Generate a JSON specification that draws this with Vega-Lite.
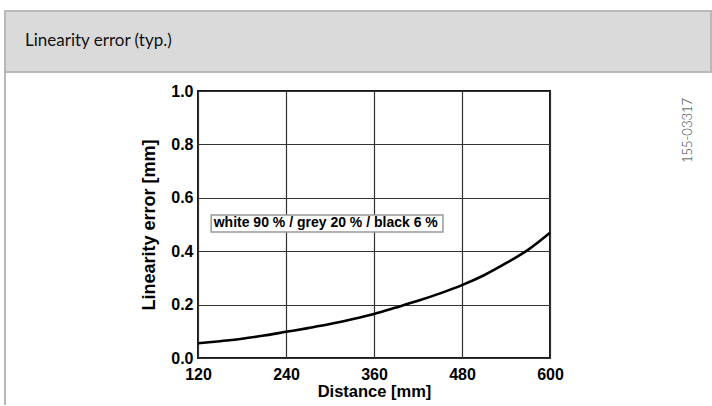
{
  "$schema": "https://vega.github.io/schema/vega-lite/v6.json",
  "padding": {"left": 4, "top": 10, "right": 0, "bottom": 0},
  "autosize": {"type": "pad"},
  "background": "white",
  "config": {
    "font": "Liberation Sans",
    "axis": {
      "grid": true,
      "gridColor": "#333333",
      "gridWidth": 1.2,
      "ticks": false,
      "tickSize": 0,
      "domain": false,
      "labelFont": "Liberation Sans",
      "labelFontSize": 16,
      "labelFontWeight": "bold",
      "labelColor": "#000000",
      "labelFlush": false,
      "labelOverlap": false,
      "titleFont": "Liberation Sans",
      "titleFontSize": 18,
      "titleFontWeight": "bold",
      "titleColor": "#000000"
    }
  },
  "datasets": {
    "curve": [
      {"distance": 120, "error": 0.055},
      {"distance": 150, "error": 0.063},
      {"distance": 180, "error": 0.072},
      {"distance": 210, "error": 0.084},
      {"distance": 240, "error": 0.098},
      {"distance": 270, "error": 0.112},
      {"distance": 300, "error": 0.127},
      {"distance": 330, "error": 0.145},
      {"distance": 360, "error": 0.165},
      {"distance": 390, "error": 0.189},
      {"distance": 420, "error": 0.214},
      {"distance": 450, "error": 0.242},
      {"distance": 480, "error": 0.273},
      {"distance": 510, "error": 0.31},
      {"distance": 540, "error": 0.355},
      {"distance": 570, "error": 0.405},
      {"distance": 600, "error": 0.469}
    ],
    "note": [
      {"x0": 138, "x1": 454, "y0": 0.472, "y1": 0.536, "ym": 0.504, "label": "white 90 % / grey 20 % / black 6 %"}
    ]
  },
  "bounds": "flush",
  "spacing": 0,
  "vconcat": [
    {
      "width": 706,
      "height": 61,
      "view": {"fill": "#dadada", "stroke": "#b8b8b8", "strokeWidth": 2},
      "title": {
        "text": "Linearity error (typ.)",
        "anchor": "start",
        "frame": "group",
        "orient": "top",
        "offset": -36,
        "dx": 20,
        "dy": 16,
        "font": "Lato",
        "fontSize": 17,
        "fontWeight": "normal",
        "color": "#111111",
        "baseline": "alphabetic"
      },
      "data": {"values": [{}]},
      "mark": {"type": "text"},
      "encoding": {"text": {"value": ""}}
    },
    {
      "bounds": "flush",
      "spacing": 192,
      "hconcat": [
        {
          "width": 0.01,
          "height": 332,
          "view": {"stroke": "#b8b8b8", "strokeWidth": 2, "fill": null},
          "data": {"values": [{}]},
          "mark": {"type": "text"},
          "encoding": {"text": {"value": ""}}
        },
        {
          "bounds": "flush",
          "spacing": 0,
          "vconcat": [
            {
              "width": 352,
              "height": 19,
              "view": {"stroke": null},
              "data": {"values": [{}]},
              "mark": {"type": "text"},
              "encoding": {"text": {"value": ""}}
            },
            {
              "width": 352,
              "height": 267,
              "view": {"stroke": "#1a1a1a", "strokeWidth": 2},
              "resolve": {"axis": {"y": "independent"}},
              "layer": [
                {
                  "data": {"name": "curve"},
                  "mark": {"type": "line", "color": "#000000", "strokeWidth": 2.6, "interpolate": "monotone"},
                  "encoding": {
                    "x": {
                      "field": "distance",
                      "type": "quantitative",
                      "title": "Distance [mm]",
                      "scale": {"domain": [120, 600], "nice": false, "zero": false},
                      "axis": {"values": [120, 240, 360, 480, 600], "labelPadding": 8, "titlePadding": 1, "titleFontSize": 16.5}
                    },
                    "y": {
                      "field": "error",
                      "type": "quantitative",
                      "title": "Linearity error [mm]",
                      "scale": {"domain": [0, 1], "nice": false, "zero": true},
                      "axis": {"values": [0, 0.2, 0.4, 0.6, 0.8, 1.0], "format": ".1f", "labelPadding": 5, "titlePadding": 12}
                    }
                  }
                },
                {
                  "data": {"name": "note"},
                  "mark": {"type": "rect", "fill": "#ffffff", "stroke": "#999999", "strokeWidth": 1.5},
                  "encoding": {
                    "x": {"field": "x0", "type": "quantitative", "title": "Distance [mm]"},
                    "x2": {"field": "x1"},
                    "y": {"field": "y0", "type": "quantitative", "title": "Linearity error [mm]", "axis": null},
                    "y2": {"field": "y1"}
                  }
                },
                {
                  "data": {"name": "note"},
                  "mark": {"type": "text", "align": "left", "baseline": "middle", "dx": 2.5, "font": "Liberation Sans", "fontWeight": "bold", "fontSize": 14, "color": "#000000"},
                  "encoding": {
                    "x": {"field": "x0", "type": "quantitative", "title": "Distance [mm]"},
                    "y": {
                      "field": "ym",
                      "type": "quantitative",
                      "title": "155-03317",
                      "axis": {
                        "orient": "right",
                        "labels": false,
                        "grid": false,
                        "ticks": false,
                        "domain": false,
                        "titleX": 137,
                        "titleY": 39,
                        "titleAngle": 270,
                        "titleAlign": "center",
                        "titleBaseline": "middle",
                        "titleFont": "Lato",
                        "titleFontWeight": 300,
                        "titleFontSize": 13,
                        "titleColor": "#333333"
                      }
                    },
                    "text": {"field": "label"}
                  }
                }
              ]
            }
          ]
        }
      ]
    }
  ]
}
